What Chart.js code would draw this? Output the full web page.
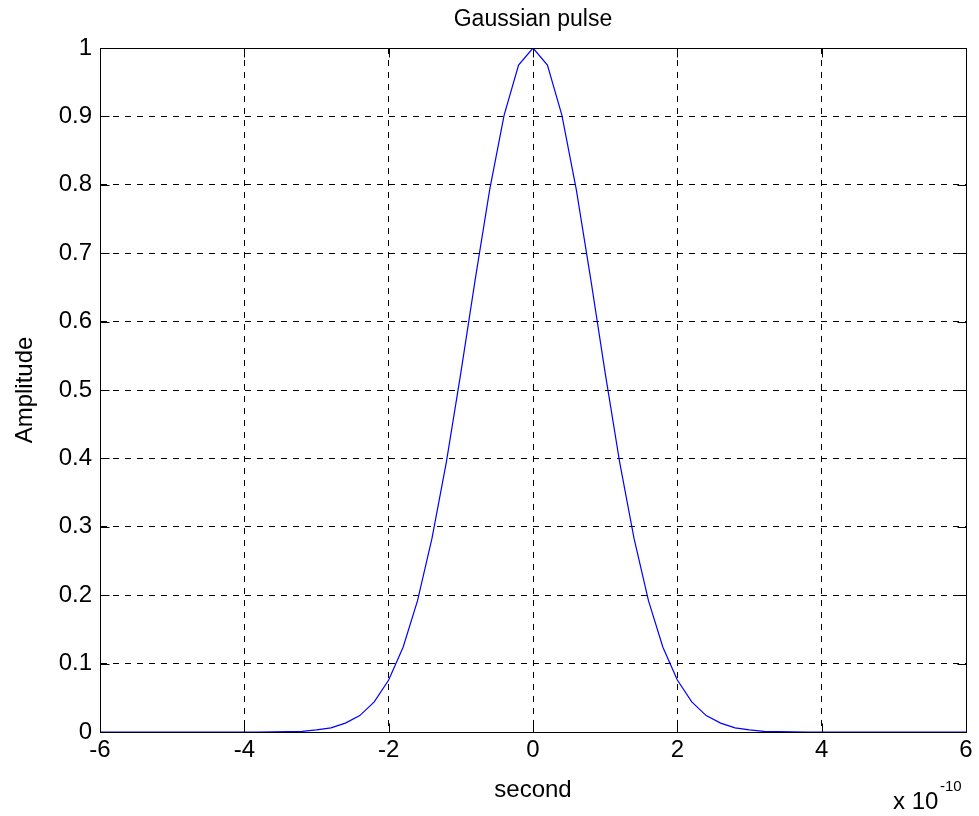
<!DOCTYPE html>
<html>
<head>
<meta charset="utf-8">
<script src="https://cdn.jsdelivr.net/npm/chart.js@4.4.0/dist/chart.umd.min.js"></script>
<style>
  html, body { margin: 0; padding: 0; background: #fff; }
  canvas { display: block; }
</style>
</head>
<body>
<canvas id="pulso" width="979" height="816"></canvas>
<script>
// tiempo en unidades de 1e-10 s
const tiempo = [
  -6, -5.8, -5.6, -5.4, -5.2, -5, -4.8, -4.6, -4.4, -4.2, -4, -3.8,
  -3.6, -3.4, -3.2, -3, -2.8, -2.6, -2.4, -2.2, -2, -1.8, -1.6, -1.4,
  -1.2, -1, -0.8, -0.6, -0.4, -0.2, 0, 0.2, 0.4, 0.6, 0.8, 1, 1.2,
  1.4, 1.6, 1.8, 2, 2.2, 2.4, 2.6, 2.8, 3, 3.2, 3.4, 3.6, 3.8, 4,
  4.2, 4.4, 4.6, 4.8, 5, 5.2, 5.4, 5.6, 5.8, 6
];
const amplitud = [
  0, 0, 0, 0, 0, 0, 0, 0, 0, 0, 0, 0,
  0.0002, 0.0006, 0.001, 0.003, 0.006, 0.013, 0.024, 0.044, 0.076, 0.124, 0.192, 0.283,
  0.395, 0.525, 0.662, 0.793, 0.902, 0.975, 1, 0.975, 0.902, 0.793, 0.662, 0.525, 0.395,
  0.283, 0.192, 0.124, 0.076, 0.044, 0.024, 0.013, 0.006, 0.003, 0.001, 0.0006, 0.0002, 0,
  0, 0, 0, 0, 0, 0, 0, 0, 0, 0, 0
];
const ticksX = [-6, -4, -2, 0, 2, 4, 6];
const ticksY = [0, 0.1, 0.2, 0.3, 0.4, 0.5, 0.6, 0.7, 0.8, 0.9, 1];

const fuente = "'Liberation Sans', Arial, Helvetica, sans-serif";

// marco, marcas hacia dentro y el "x 10^-10"
const marco = {
  id: 'marco',
  afterDraw(chart) {
    const ctx = chart.ctx;
    const a = chart.chartArea;
    const sx = chart.scales.x, sy = chart.scales.y;
    const L = Math.round(a.left) + 0.5, R = Math.round(a.right) + 0.5;
    const T = Math.round(a.top) + 0.5, B = Math.round(a.bottom) + 0.5;
    ctx.save();
    ctx.strokeStyle = '#000';
    ctx.lineWidth = 1;
    ctx.setLineDash([]);
    ctx.beginPath();
    ticksX.forEach(v => {
      const px = Math.round(sx.getPixelForValue(v)) + 0.5;
      ctx.moveTo(px, B); ctx.lineTo(px, B - 9);
      ctx.moveTo(px, T); ctx.lineTo(px, T + 9);
    });
    ticksY.forEach(v => {
      const py = Math.round(sy.getPixelForValue(v)) + 0.5;
      ctx.moveTo(L, py); ctx.lineTo(L + 9, py);
      ctx.moveTo(R, py); ctx.lineTo(R - 9, py);
    });
    ctx.stroke();
    ctx.strokeRect(L, T, R - L, B - T);

    ctx.fillStyle = '#000';
    ctx.textBaseline = 'alphabetic';
    ctx.textAlign = 'left';
    ctx.font = '24px ' + fuente;
    ctx.fillText('x 10', 893, 809);
    ctx.font = '15px ' + fuente;
    ctx.fillText('-10', 940, 791);
    ctx.restore();
  }
};

new Chart(document.getElementById('pulso'), {
  type: 'line',
  data: {
    datasets: [{
      data: tiempo.map((t, i) => ({ x: t, y: amplitud[i] })),
      borderColor: '#0000ff',
      borderWidth: 1.2,
      pointRadius: 0,
      tension: 0,
      fill: false
    }]
  },
  options: {
    responsive: false,
    animation: false,
    layout: { padding: { left: 0, right: 13, top: 0, bottom: 0 } },
    plugins: {
      legend: { display: false },
      tooltip: { enabled: false },
      title: {
        display: true,
        fullSize: false,
        text: 'Gaussian pulse',
        color: '#000',
        font: { family: fuente, size: 23, weight: 'normal' },
        padding: { top: 6.2, bottom: 14.2 }
      }
    },
    scales: {
      x: {
        type: 'linear',
        min: -6,
        max: 6,
        afterBuildTicks: s => { s.ticks = ticksX.map(v => ({ value: v })); },
        afterFit: s => { s.height = 84; },
        ticks: {
          color: '#000',
          padding: 4,
          maxRotation: 0,
          font: { family: fuente, size: 24 },
          callback: v => String(v)
        },
        grid: { color: '#000', lineWidth: 1, drawTicks: false },
        border: { display: true, color: '#000', dash: [6, 6] },
        title: {
          display: true,
          text: 'second',
          color: '#000',
          font: { family: fuente, size: 24 },
          padding: { top: 0, bottom: 11.6 }
        }
      },
      y: {
        min: 0,
        max: 1,
        afterBuildTicks: s => { s.ticks = ticksY.map(v => ({ value: v })); },
        afterFit: s => { s.width = 100; },
        ticks: {
          color: '#000',
          padding: 8,
          font: { family: fuente, size: 24 },
          callback: v => String(Number(v.toFixed(1)))
        },
        grid: { color: '#000', lineWidth: 1, drawTicks: false },
        border: { display: true, color: '#000', dash: [6, 6] },
        title: {
          display: true,
          text: 'Amplitude',
          color: '#000',
          font: { family: fuente, size: 24 },
          padding: { top: 10.6, bottom: 0 }
        }
      }
    }
  },
  plugins: [marco]
});
</script>
</body>
</html>
